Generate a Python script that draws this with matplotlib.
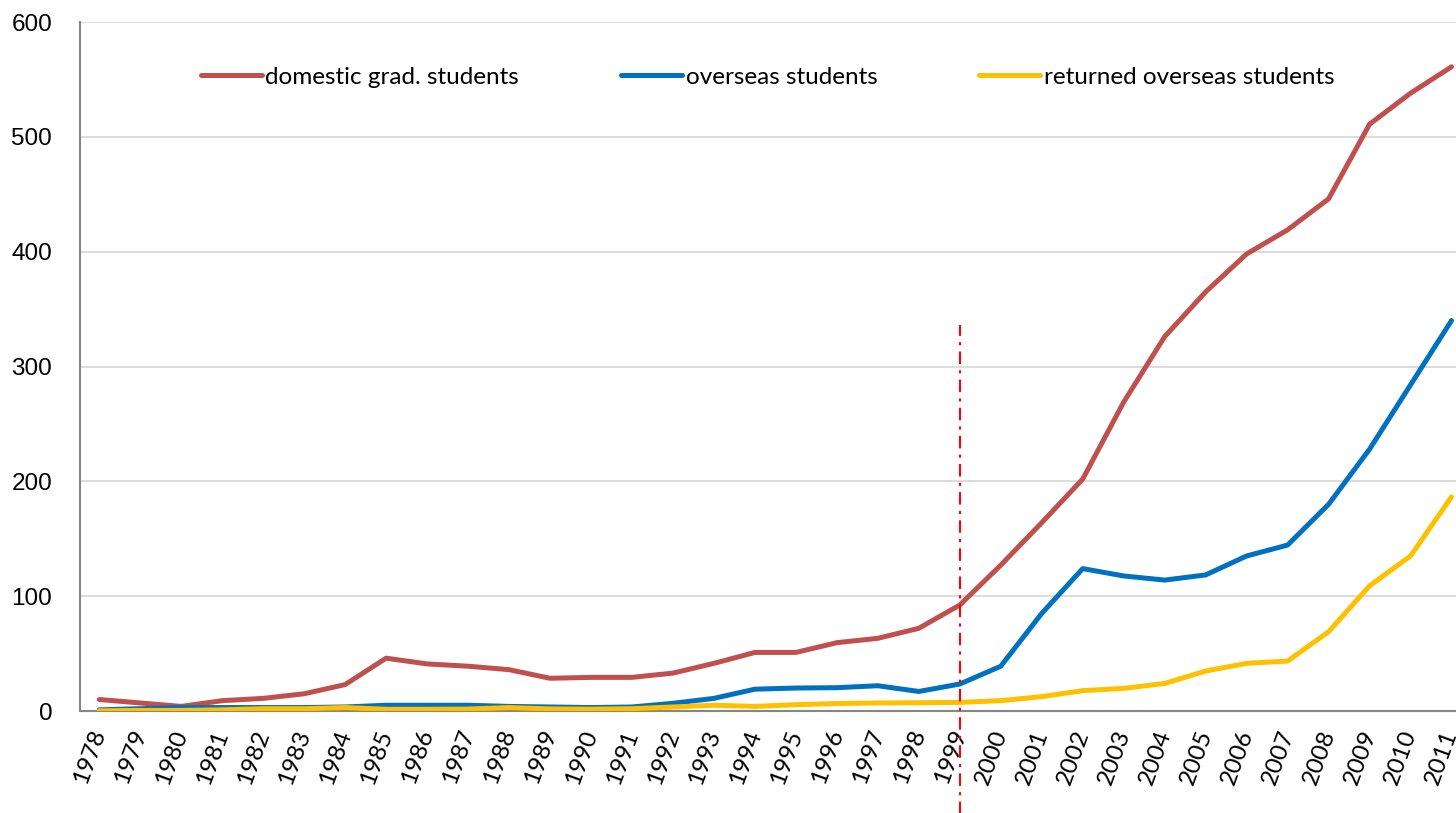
import matplotlib.pyplot as plt

# --- data ---
years = [str(y) for y in range(1978, 2012)]

domestic = [10, 7, 4, 9, 11, 15, 23, 46, 41, 39, 36, 28.5, 29.3, 29.3, 33, 41.5,
            51, 51, 59.5, 63.3, 72, 92.3, 127, 164, 202, 269, 326, 365, 398, 419,
            446, 511, 538, 561]
overseas = [1, 2, 3, 3, 3, 3, 3.5, 5, 5, 5, 4, 3.5, 3, 3.5, 6.7, 11,
            19, 20, 20.3, 22, 17, 23.5, 39, 85, 124, 117.6, 114, 118.5, 135, 144.5,
            180, 228, 284, 340]
returned = [0.2, 0.5, 0.5, 1, 2, 2, 3, 1.5, 1.5, 1.7, 3, 1.8, 1.6, 2, 3.5, 5,
            4, 5.5, 6.5, 7, 7.2, 7.5, 9, 12.5, 17.7, 19.7, 24, 34.8, 41.5, 43.5,
            69, 109, 135, 186.5]

labels = ["domestic grad. students", "overseas students", "returned overseas students"]
colors = ["#C0504D", "#0070C0", "#FFC000"]
marker_year = "1999"
marker_top = 336
marker_bottom = -90

W, H = 1456, 813
fig = plt.figure(figsize=(W / 100, H / 100), dpi=100)
ax = fig.add_axes([80 / W, (H - 711) / H, (1472 - 80) / W, (711 - 22) / H])

x = list(range(len(years)))
for series, lab, col in zip([domestic, overseas, returned], labels, colors):
    ax.plot(x, series, color=col, lw=3.6, label=lab, solid_capstyle="round",
            solid_joinstyle="round", zorder=3)

# vertical marker at 1999
xi = years.index(marker_year)
ax.plot([xi, xi], [marker_bottom, marker_top], color="red", lw=1.5,
        linestyle=(0, (6, 3, 1.5, 3)), clip_on=False, zorder=4)

ax.set_xlim(-0.47, len(years) - 0.5)
ax.set_ylim(0, 600)
ax.set_yticks(range(0, 601, 100))
ax.set_xticks(x)
ax.set_xticklabels(years, rotation=70, ha="right", va="center",
                   rotation_mode="anchor", fontsize=17.5, family="Lato")
ax.tick_params(axis="x", length=0, pad=14)
ax.tick_params(axis="y", length=0, pad=20, labelsize=17.5)
for t in ax.get_yticklabels():
    t.set_family("Liberation Sans")

ax.grid(axis="y", color="#D9D9D9", lw=1.3)
ax.set_axisbelow(True)
for s in ["top", "right"]:
    ax.spines[s].set_visible(False)
for s in ["left", "bottom"]:
    ax.spines[s].set_color("#868686")
    ax.spines[s].set_linewidth(1.5)

leg = ax.legend(loc="center", bbox_to_anchor=(0.494, 1 - (77 - 22) / (711 - 22)),
                ncol=3, frameon=False, prop={"family": "Lato", "size": 17.5},
                handlelength=2.5, handletextpad=0.15, columnspacing=4.2)

fig.savefig("out.png", dpi=100)
